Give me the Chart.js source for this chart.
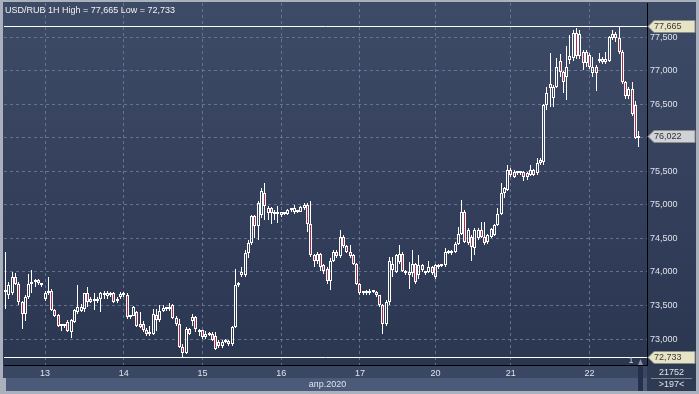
<!DOCTYPE html>
<html>
<head>
<meta charset="utf-8">
<script src="https://cdn.jsdelivr.net/npm/chart.js@4.4.1/dist/chart.umd.min.js"></script>
<style>
  html, body { margin: 0; padding: 0; background: #aab1bd; }
  canvas { display: block; }
</style>
</head>
<body>
<canvas id="chart" width="699" height="394"></canvas>
<script>
// =======================================
// USD/RUB 1H candles, 10–22 Apr 2020
// =======================================

const symbol = "USD/RUB 1H";
const monthLabel = "апр.2020";
const barsCount = "21752";
const barsShown = ">197<";

// day label -> index of the first hourly candle of that day
const dayNames  = ["13", "14", "15", "16", "17", "20", "21", "22"];
const dayStarts = [12, 36, 60, 84, 108, 131, 154, 178];
const slotCount = 196;

const priceTicks = [73.0, 73.5, 74.0, 74.5, 75.0, 75.5, 76.0, 76.5, 77.0, 77.5];
const yMin = 72.613;
const yMax = 78.007;

const highValue = 77.665;
const lowValue  = 72.733;
const lastValue = 76.022;

const openPrices = [
  73.70, 73.66, 73.68, 73.93, 73.82, 73.55, 73.38, 73.62, 73.82, 73.85, 73.88, 73.83,
  73.60, 73.68, 73.72, 73.43, 73.36, 73.20, 73.19, 73.25, 73.10, 73.26, 73.40, 73.42, 73.45, 73.68, 73.60, 73.56, 73.56, 73.60, 73.65, 73.64, 73.66, 73.68, 73.56, 73.62,
  73.66, 73.66, 73.33, 73.35, 73.40, 73.22, 73.22, 73.14, 73.07, 73.08, 73.36, 73.28, 73.42, 73.45, 73.44, 73.50, 73.32, 73.22, 72.88, 72.79, 73.15, 73.27, 73.33, 73.14,
  73.13, 73.03, 73.06, 73.07, 73.05, 72.96, 72.89, 72.96, 72.97, 72.92, 73.18, 73.80, 73.95, 73.95, 74.28, 74.43, 74.83, 74.68, 74.85, 75.18, 74.88, 74.95, 74.88, 74.87,
  74.85, 74.88, 74.87, 74.92, 74.90, 74.90, 74.90, 74.95, 75.00, 74.72, 74.25, 74.17, 74.27, 74.10, 74.05, 73.87, 74.17, 74.30, 74.23, 74.52, 74.38, 74.30, 74.25, 74.12,
  73.82, 73.68, 73.70, 73.69, 73.71, 73.70, 73.65, 73.50, 73.22, 73.55, 74.03, 74.00, 74.15, 74.27, 73.98, 74.00, 73.98, 74.12, 73.95, 74.10, 73.98, 74.00, 74.07,
  73.93, 74.08, 74.09, 74.10, 74.28, 74.28, 74.30, 74.42, 74.57, 74.90, 74.43, 74.52, 74.35, 74.50, 74.62, 74.52, 74.45, 74.52, 74.55, 74.70, 74.87, 75.17, 75.22,
  75.52, 75.49, 75.47, 75.47, 75.49, 75.47, 75.45, 75.52, 75.47, 75.67, 75.64, 76.49, 76.80, 76.59, 76.76, 77.14, 76.98, 76.91, 77.16, 77.19, 77.56, 77.21, 77.28, 77.11,
  77.23, 76.96, 77.06, 77.15, 77.18, 77.13, 77.15, 77.48, 77.55, 77.48, 77.28, 76.83, 76.62, 76.72, 76.48, 76.00
];

const highPrices = [
  74.30, 73.85, 74.00, 73.98, 73.85, 73.56, 73.65, 73.97, 74.03, 73.90, 73.90, 73.84,
  73.72, 73.92, 73.74, 73.44, 73.37, 73.22, 73.23, 73.28, 73.30, 73.45, 73.80, 73.52, 73.69, 73.78, 73.62, 73.68, 73.62, 73.70, 73.72, 73.72, 73.70, 73.70, 73.62, 73.70,
  73.70, 73.68, 73.36, 73.49, 73.42, 73.40, 73.27, 73.17, 73.20, 73.45, 73.45, 73.50, 73.50, 73.48, 73.53, 73.52, 73.34, 73.30, 72.92, 73.18, 73.17, 73.38, 73.34, 73.15,
  73.14, 73.12, 73.10, 73.10, 73.10, 72.98, 72.99, 73.00, 72.99, 73.20, 74.05, 73.85, 74.07, 74.32, 74.48, 74.85, 74.85, 75.05, 75.25, 75.33, 74.98, 74.97, 74.93, 74.98,
  74.90, 74.90, 74.94, 74.95, 75.00, 74.93, 74.98, 75.02, 75.02, 75.05, 74.27, 74.30, 74.28, 74.12, 74.08, 74.20, 74.32, 74.33, 74.62, 74.55, 74.40, 74.40, 74.27, 74.14,
  73.84, 73.72, 73.73, 73.74, 73.73, 73.71, 73.66, 73.52, 73.58, 74.22, 74.22, 74.27, 74.40, 74.30, 74.03, 74.15, 74.33, 74.14, 74.25, 74.12, 74.02, 74.17, 74.09,
  74.12, 74.12, 74.12, 74.35, 74.32, 74.33, 74.44, 74.67, 75.07, 74.92, 74.65, 74.55, 74.65, 74.65, 74.75, 74.75, 74.57, 74.65, 74.72, 74.95, 75.32, 75.26, 75.60,
  75.55, 75.52, 75.50, 75.50, 75.51, 75.49, 75.60, 75.54, 75.69, 75.70, 76.50, 76.76, 77.26, 76.78, 77.19, 77.24, 77.00, 77.36, 77.53, 77.60, 77.63, 77.60, 77.30, 77.30,
  77.26, 77.20, 77.08, 77.26, 77.20, 77.28, 77.52, 77.60, 77.58, 77.665, 77.30, 76.85, 76.75, 76.83, 76.55, 76.10
];

const lowPrices = [
  73.45, 73.60, 73.65, 73.80, 73.50, 73.15, 73.27, 73.60, 73.68, 73.78, 73.80, 73.78,
  73.57, 73.66, 73.42, 73.33, 73.18, 73.12, 73.17, 73.10, 73.02, 73.24, 73.38, 73.40, 73.40, 73.48, 73.53, 73.43, 73.54, 73.40, 73.60, 73.60, 73.62, 73.54, 73.53, 73.60,
  73.62, 73.30, 73.30, 73.34, 73.18, 73.16, 73.10, 73.05, 73.05, 73.06, 73.12, 73.25, 73.40, 73.42, 73.42, 73.30, 73.20, 72.87, 72.733, 72.78, 73.06, 73.20, 73.10, 73.05,
  73.00, 73.00, 73.04, 72.97, 72.84, 72.87, 72.87, 72.94, 72.90, 72.90, 73.16, 73.78, 73.92, 73.92, 74.20, 74.40, 74.50, 74.48, 74.80, 74.78, 74.78, 74.72, 74.78, 74.73,
  74.82, 74.85, 74.85, 74.90, 74.87, 74.88, 74.89, 74.92, 74.60, 74.22, 74.07, 74.12, 74.02, 73.97, 73.82, 73.73, 74.15, 74.20, 74.20, 74.35, 74.28, 74.20, 74.10, 73.80,
  73.65, 73.65, 73.66, 73.66, 73.68, 73.62, 73.48, 73.07, 73.20, 73.50, 73.92, 73.98, 74.12, 74.00, 73.95, 73.75, 73.92, 73.82, 73.90, 74.00, 73.95, 73.98, 73.95,
  73.90, 74.05, 74.07, 74.08, 74.26, 74.25, 74.28, 74.40, 74.55, 74.43, 74.40, 74.17, 74.25, 74.48, 74.50, 74.40, 74.42, 74.50, 74.53, 74.68, 74.85, 75.10, 75.20,
  75.42, 75.40, 75.45, 75.45, 75.35, 75.37, 75.43, 75.43, 75.45, 75.60, 75.60, 76.41, 76.46, 76.46, 76.74, 76.90, 76.66, 76.56, 77.10, 77.15, 77.18, 77.18, 77.01, 77.05,
  77.03, 76.90, 76.70, 77.12, 77.10, 77.10, 77.13, 77.45, 77.42, 77.25, 76.80, 76.58, 76.58, 76.33, 75.98, 75.86
];

const closePrices = [
  73.72, 73.80, 73.92, 73.82, 73.55, 73.38, 73.62, 73.82, 73.85, 73.88, 73.83, 73.80,
  73.68, 73.72, 73.43, 73.35, 73.20, 73.19, 73.21, 73.12, 73.28, 73.43, 73.48, 73.48, 73.68, 73.55, 73.55, 73.58, 73.60, 73.68, 73.66, 73.68, 73.68, 73.55, 73.60, 73.67,
  73.68, 73.33, 73.34, 73.47, 73.20, 73.18, 73.14, 73.07, 73.10, 73.37, 73.28, 73.42, 73.46, 73.46, 73.47, 73.32, 73.22, 72.88, 72.79, 73.15, 73.08, 73.33, 73.15, 73.10,
  73.03, 73.08, 73.07, 72.99, 72.85, 72.89, 72.96, 72.97, 72.92, 73.18, 73.80, 73.83, 74.00, 74.28, 74.43, 74.83, 74.68, 75.03, 75.20, 74.98, 74.95, 74.88, 74.87, 74.88,
  74.89, 74.87, 74.93, 74.93, 74.95, 74.90, 74.97, 75.00, 74.72, 74.25, 74.17, 74.27, 74.07, 74.02, 73.87, 74.17, 74.30, 74.23, 74.52, 74.38, 74.30, 74.23, 74.12, 73.82,
  73.68, 73.70, 73.69, 73.72, 73.70, 73.65, 73.50, 73.22, 73.55, 74.17, 74.12, 74.25, 74.27, 74.02, 74.00, 73.95, 74.12, 73.85, 74.10, 74.03, 74.00, 74.07, 73.98,
  74.10, 74.10, 74.10, 74.30, 74.30, 74.31, 74.42, 74.57, 74.90, 74.45, 74.62, 74.37, 74.62, 74.62, 74.52, 74.43, 74.55, 74.64, 74.70, 74.87, 75.17, 75.25, 75.52,
  75.45, 75.42, 75.48, 75.49, 75.42, 75.42, 75.52, 75.45, 75.62, 75.62, 76.49, 76.66, 76.74, 76.76, 77.06, 76.98, 76.83, 77.06, 77.21, 77.56, 77.21, 77.55, 77.11, 77.28,
  77.05, 77.06, 76.96, 77.18, 77.13, 77.18, 77.50, 77.55, 77.48, 77.28, 76.83, 76.62, 76.72, 76.36, 76.00, 76.022
];

// -------------------------------
// STYLE
// -------------------------------
const FONT = "'Liberation Sans', Arial, sans-serif";
const GRID = "rgba(112, 128, 160, 0.8)";
const RED = "#aa2c4b";
const TEXT = "#dfe3ea";

const fmt = v => v.toFixed(3).replace(".", ",");

// -------------------------------
// BUILD SERIES
// -------------------------------
const labels = [];
for (let i = 0; i < slotCount; i++) {
  const d = dayStarts.indexOf(i);
  labels.push(d >= 0 ? dayNames[d] : "");
}

const isDown = openPrices.map((o, i) => closePrices[i] < o);
const bodies = openPrices.map((o, i) => [Math.min(o, closePrices[i]), Math.max(o, closePrices[i])]);
const upperWicks = openPrices.map((o, i) => [Math.max(o, closePrices[i]), highPrices[i]]);
const lowerWicks = openPrices.map((o, i) => [lowPrices[i], Math.min(o, closePrices[i])]);

// -------------------------------
// PLUGINS
// -------------------------------
const frame = {
  id: "frame",
  beforeDraw(chart) {
    const { ctx, chartArea: a, width, height } = chart;
    ctx.save();
    ctx.fillStyle = "#aab1bd";
    ctx.fillRect(0, 0, width, height);

    const g = ctx.createLinearGradient(0, a.top, 0, a.bottom);
    g.addColorStop(0, "#3e4b67");
    g.addColorStop(1, "#2b3651");
    ctx.fillStyle = g;
    ctx.fillRect(3, 2, width - 6, a.bottom - 2);

    ctx.fillStyle = "#3a4763";
    ctx.fillRect(3, a.bottom, a.right - 3, 13);
    ctx.fillStyle = "#4b5a78";
    ctx.fillRect(6, a.bottom + 13, a.right - 6, height - 3 - a.bottom - 13);
    ctx.fillStyle = "#2e3952";
    ctx.fillRect(a.right, a.bottom, width - 3 - a.right, height - 3 - a.bottom);
    ctx.restore();
  }
};

const snapBars = {
  id: "snapBars",
  beforeDatasetsDraw(chart) {
    chart.data.datasets.forEach((ds, di) => {
      chart.getDatasetMeta(di).data.forEach(el => {
        el.x = Math.floor(el.x) + 0.5;
        el.y = Math.round(el.y);
        el.base = Math.round(el.base);
      });
    });

    // High / Low lines
    const { ctx, chartArea: a, scales: { y } } = chart;
    ctx.save();
    ctx.strokeStyle = "#ffffff";
    ctx.lineWidth = 1;
    [highValue, lowValue].forEach(v => {
      const py = Math.round(y.getPixelForValue(v)) + 0.5;
      ctx.beginPath();
      ctx.moveTo(a.left, py);
      ctx.lineTo(a.right, py);
      ctx.stroke();
    });
    ctx.restore();
  }
};

const overlay = {
  id: "overlay",
  afterDraw(chart) {
    const { ctx, chartArea: a, scales: { y }, width, height } = chart;
    ctx.save();
    ctx.font = "9px " + FONT;

    // title
    ctx.fillStyle = "#f2f2f2";
    ctx.textBaseline = "alphabetic";
    ctx.textAlign = "left";
    ctx.fillText(`${symbol} High = ${fmt(highValue)} Low = ${fmt(lowValue)}`, 5, 13);

    // price tags on the right axis
    const tag = (v, fill, txt) => {
      const py = Math.round(y.getPixelForValue(v)) + 0.5;
      const x0 = a.right + 1;
      ctx.beginPath();
      ctx.moveTo(x0, py);
      ctx.lineTo(x0 + 6, py - 6);
      ctx.lineTo(width - 4, py - 6);
      ctx.lineTo(width - 4, py + 6);
      ctx.lineTo(x0 + 6, py + 6);
      ctx.closePath();
      ctx.fillStyle = fill;
      ctx.fill();
      ctx.strokeStyle = "#8d8f86";
      ctx.lineWidth = 1;
      ctx.stroke();
      ctx.fillStyle = txt;
      ctx.textBaseline = "middle";
      ctx.textAlign = "left";
      ctx.fillText(fmt(v), x0 + 6, py + 0.5);
    };
    tag(highValue, "#e6e4c7", "#3b3b30");
    tag(lastValue, "#cfd3d8", "#2e3038");
    tag(lowValue, "#e6e4c7", "#3b3b30");

    // month label
    ctx.fillStyle = TEXT;
    ctx.textAlign = "center";
    ctx.textBaseline = "middle";
    ctx.fillText(monthLabel, (a.left + a.right) / 2 + 2, a.bottom + 20);

    // bars counter box
    const cx = (a.right + width - 3) / 2;
    ctx.fillText(barsCount, cx, a.bottom + 8);
    ctx.fillText(barsShown, cx, a.bottom + 20);
    ctx.strokeStyle = "#7c879a";
    ctx.beginPath();
    ctx.moveTo(a.right + 4, a.bottom + 13.5);
    ctx.lineTo(width - 7, a.bottom + 13.5);
    ctx.stroke();

    // scroll marker
    ctx.fillStyle = "#c8ccd4";
    ctx.fillText("1", a.right - 16, a.bottom - 4);
    ctx.fillStyle = "#8a94a6";
    ctx.beginPath();
    ctx.moveTo(a.right - 9, a.bottom);
    ctx.lineTo(a.right - 6.5, a.bottom - 6);
    ctx.lineTo(a.right - 4, a.bottom);
    ctx.closePath();
    ctx.fill();
    ctx.fillStyle = "#26304a";
    ctx.fillRect(a.right - 9, a.bottom + 1, 5, height - 4 - a.bottom);
    ctx.restore();
  }
};

// -------------------------------
// CHART
// -------------------------------
new Chart(document.getElementById("chart").getContext("2d"), {
  type: "bar",
  data: {
    labels,
    datasets: [
      {
        label: "body",
        data: bodies,
        grouped: false,
        barThickness: 3,
        minBarLength: 2,
        borderWidth: 1,
        borderColor: "#ffffff",
        borderSkipped: false,
        inflateAmount: 0,
        backgroundColor: ctx => (isDown[ctx.dataIndex] ? RED : "rgba(0,0,0,0)")
      },
      {
        label: "upper",
        data: upperWicks,
        grouped: false,
        barThickness: 1,
        borderWidth: 0,
        inflateAmount: 0,
        backgroundColor: "#ffffff"
      },
      {
        label: "lower",
        data: lowerWicks,
        grouped: false,
        barThickness: 1,
        borderWidth: 0,
        inflateAmount: 0,
        backgroundColor: "#ffffff"
      }
    ]
  },
  options: {
    responsive: false,
    animation: false,
    events: [],
    layout: { padding: { left: 4, top: 3, right: 0, bottom: 0 } },
    plugins: {
      legend: { display: false },
      tooltip: { enabled: false }
    },
    scales: {
      x: {
        type: "category",
        offset: true,
        grid: {
          offset: false,
          drawTicks: false,
          color: ctx => (dayStarts.includes(ctx.index) ? GRID : "rgba(0,0,0,0)")
        },
        border: { display: true, color: "#000000", width: 1, dash: [3, 3] },
        ticks: {
          autoSkip: false,
          maxRotation: 0,
          minRotation: 0,
          padding: 3,
          color: TEXT,
          font: { family: FONT, size: 9 }
        },
        afterFit: s => {
          s.height = 29;
          s.paddingLeft = 0;
          s.paddingRight = 0;
        }
      },
      y: {
        position: "right",
        min: yMin,
        max: yMax,
        grid: { drawTicks: false, color: GRID },
        border: { display: true, color: "#000000", width: 1, dash: [3, 3] },
        ticks: {
          padding: 3,
          color: TEXT,
          font: { family: FONT, size: 9 },
          callback: v => fmt(v)
        },
        afterBuildTicks: s => {
          s.ticks = priceTicks.map(v => ({ value: v }));
        },
        afterFit: s => {
          s.width = 52;
          s.paddingTop = 0;
          s.paddingBottom = 0;
        }
      }
    }
  },
  plugins: [frame, snapBars, overlay]
});
</script>
</body>
</html>
